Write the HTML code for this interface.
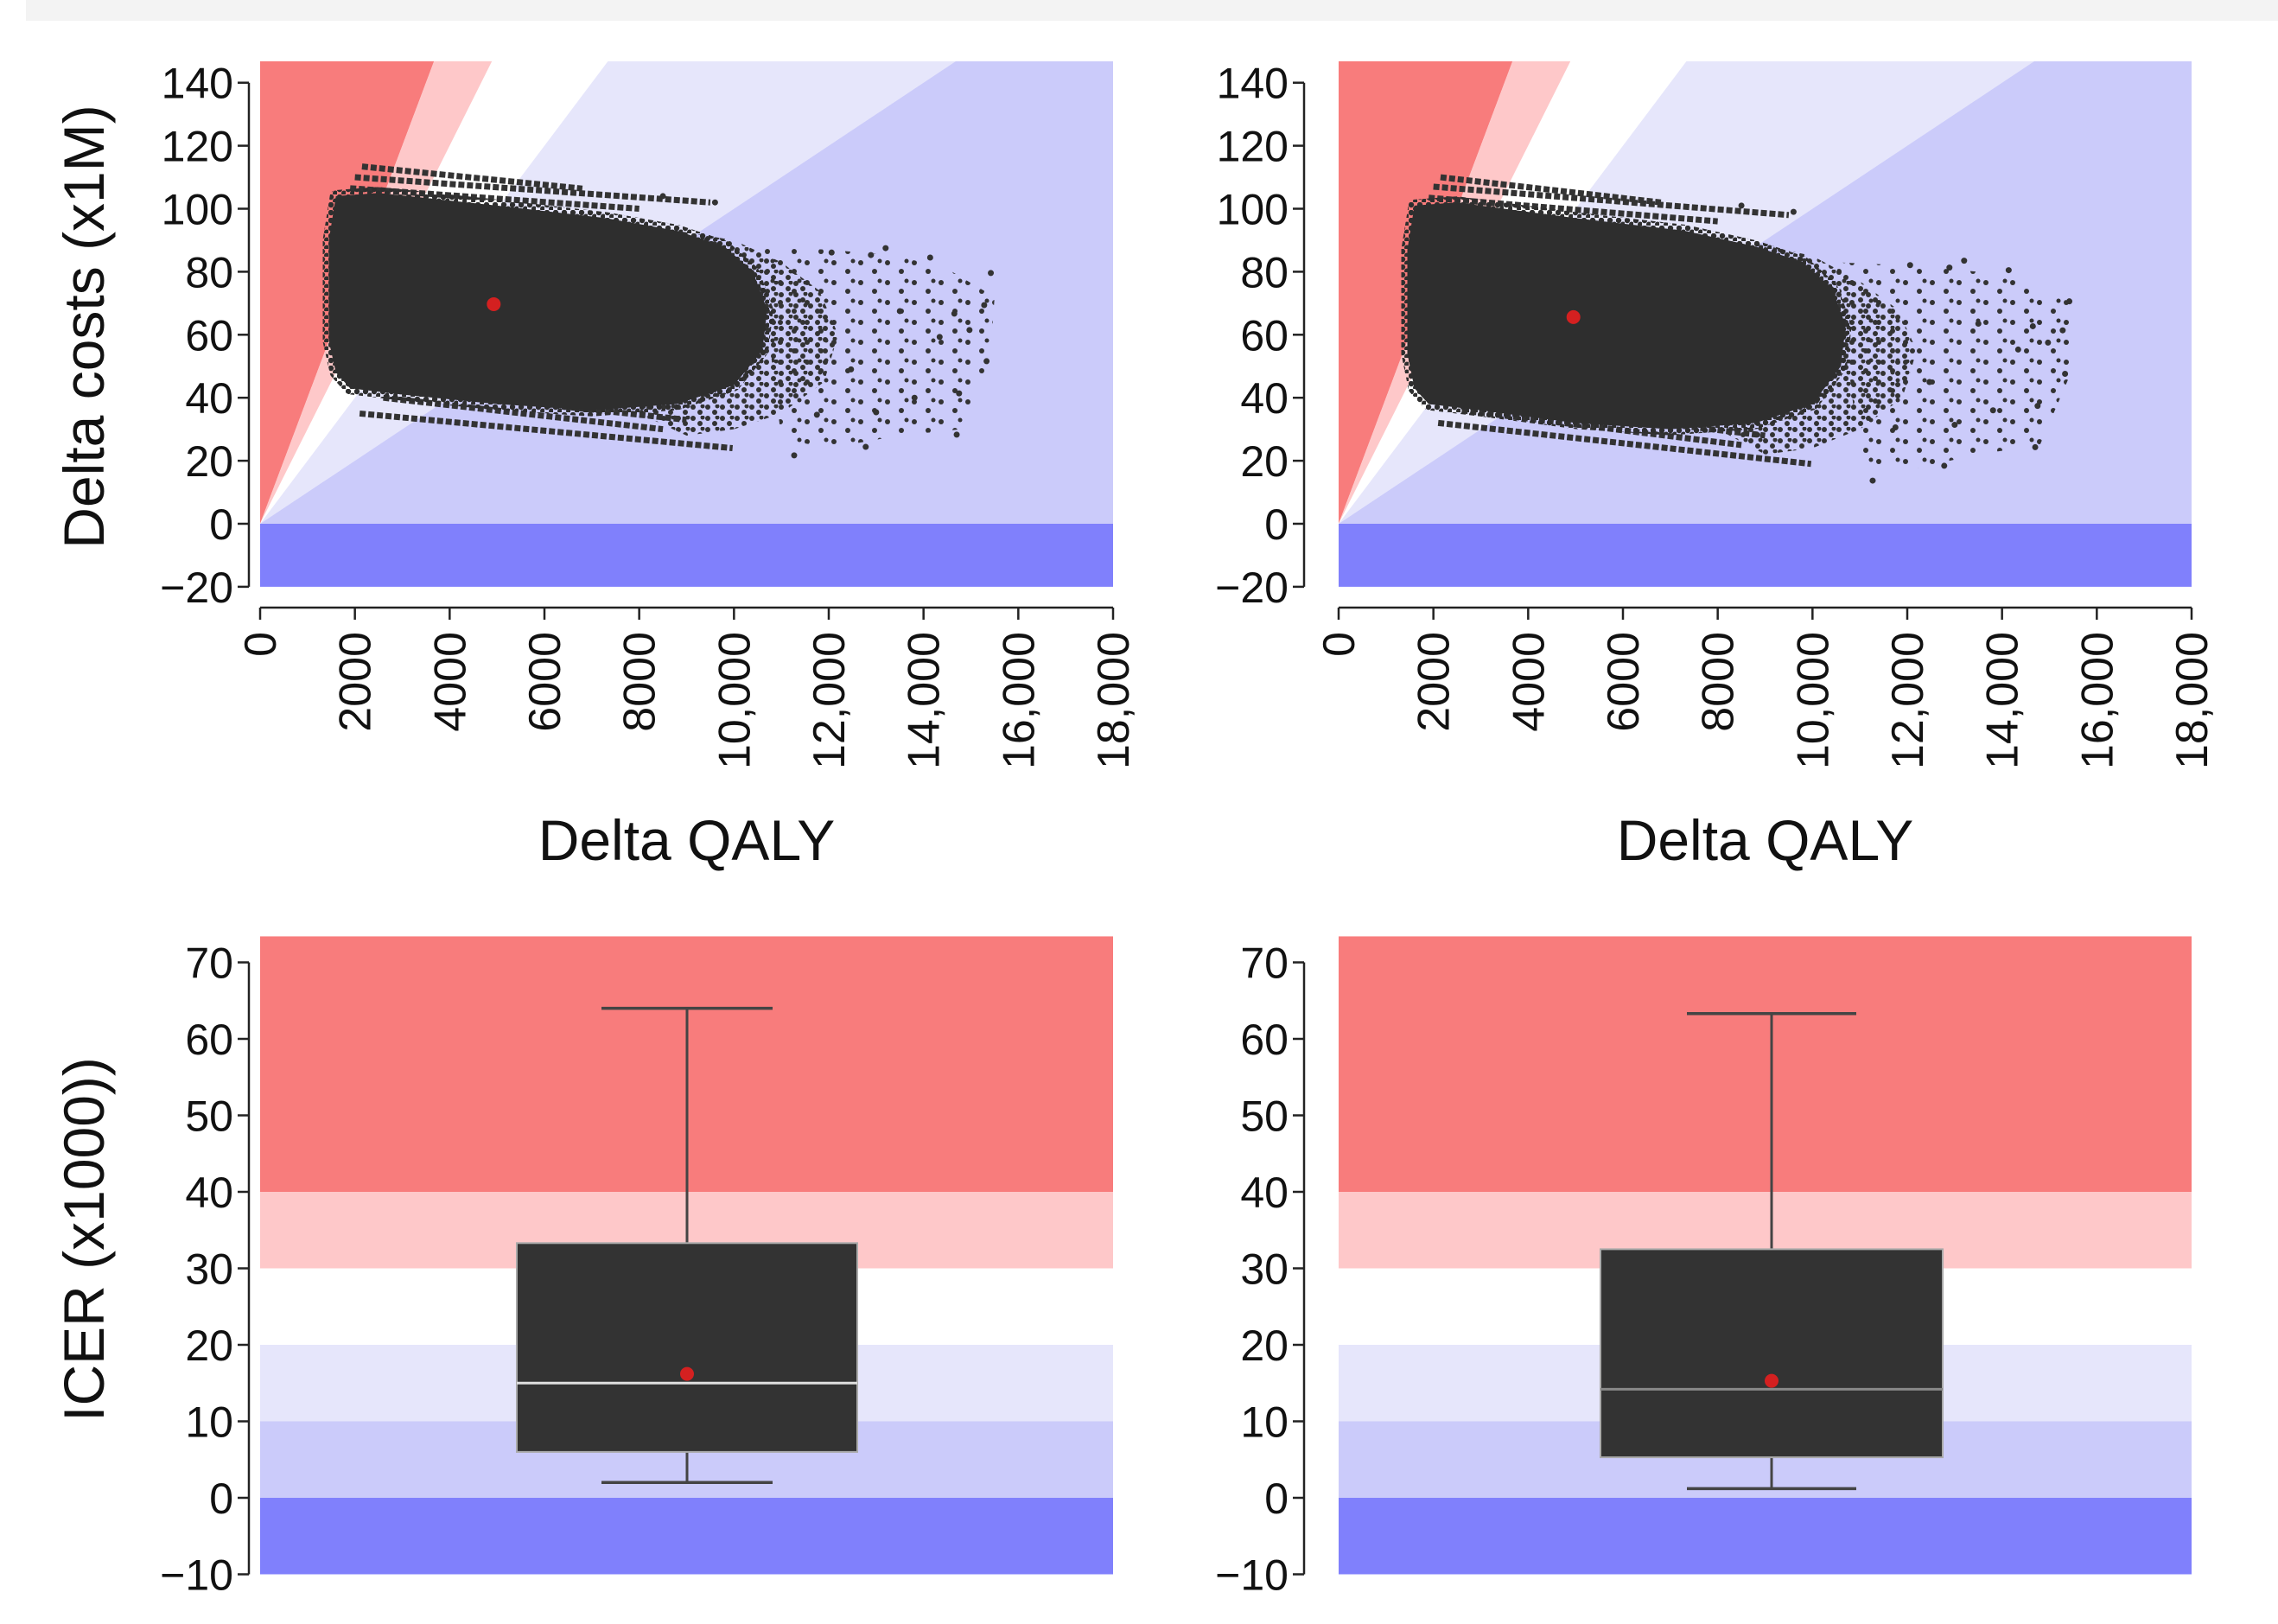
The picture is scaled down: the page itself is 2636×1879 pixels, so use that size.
<!DOCTYPE html>
<html><head><meta charset="utf-8"><style>
html,body{margin:0;padding:0;background:#fff;}
svg text{font-family:"Liberation Sans",Arial,sans-serif;fill:#111;}
</style></head><body>
<svg id="fig" width="2636" height="1874" viewBox="0 0 2636 1874" xmlns="http://www.w3.org/2000/svg">
<defs>
<pattern id="dotsDense" width="10" height="9" patternUnits="userSpaceOnUse">
<circle cx="3" cy="3" r="3.2" fill="#2e2e2e"/><circle cx="8" cy="7.5" r="3" fill="#2e2e2e"/>
</pattern>
<pattern id="dotsMid" width="17" height="13" patternUnits="userSpaceOnUse">
<circle cx="3" cy="3" r="3" fill="#333"/><circle cx="11" cy="9" r="3" fill="#333"/><circle cx="14" cy="2" r="2.5" fill="#333"/>
</pattern>
<pattern id="dotsSparse" width="31" height="23" patternUnits="userSpaceOnUse">
<circle cx="4" cy="5" r="3" fill="#333"/><circle cx="20" cy="15" r="3" fill="#333"/><circle cx="26" cy="3" r="2.5" fill="#333"/>
</pattern>
</defs>
<rect x="30" y="0" width="2606" height="24" fill="#f3f3f3"/>
</svg>
<script>
// ---- data ----
const thresholds = [40, 30, 20, 10]; // ICER thresholds (x1000 per QALY)
const bandColors = ["#f87c7c", "#fec8c9", "#ffffff", "#e6e6fb", "#cbcbfa"];
const negColor = "#8080fc";
const costTicks = [-20, 0, 20, 40, 60, 80, 100, 120, 140];
const qalyTicks = [0, 2000, 4000, 6000, 8000, 10000, 12000, 14000, 16000, 18000];
const qalyTickLabels = ["0","2000","4000","6000","8000","10,000","12,000","14,000","16,000","18,000"];
const icerTicks = [-10, 0, 10, 20, 30, 40, 50, 60, 70];
// left scatter
const cloudQalyL = [1600, 2500, 5000, 7300, 8800, 9800, 10400, 10700, 10600, 10000, 8800, 7000, 5000, 3000, 1900, 1600, 1450, 1450];
const cloudCostL = [104, 105, 101, 97, 93, 88, 80, 68, 55, 44, 38, 36, 38, 41, 43, 48, 58, 90];
const midQalyL = [8800, 10000, 11000, 11800, 12200, 11900, 11000, 10000, 9000, 8000];
const midCostL = [93, 90, 83, 74, 60, 45, 35, 30, 28, 35];
const sparseQalyL = [10500, 12000, 13500, 14600, 15500, 15400, 14800, 13500, 12000, 11000];
const sparseCostL = [88, 87, 85, 80, 72, 52, 30, 28, 24, 27];
const stripeQalyL = [[2150, 6800], [2000, 9500], [1900, 8000], [2200, 9000], [2100, 9970], [2600, 8500]];
const stripeCostL = [[113.4, 106.4], [110, 102], [106.5, 100], [44, 33], [35, 24], [40, 30]];
const outQalyL = [13200,14140,15420,15280,14650,14970,15330,14700,12780,11270,12890,12060,14340,14750,13810,12470,13500,13000,11750,9600,8500];
const outCostL = [87.5,84.5,79.6,69.4,66.7,61.5,51.6,28.3,24.4,21.7,85.3,86.1,59.3,41.4,40,49,67.5,35.4,34.6,102,104];
const meanL = [4930, 69.7];
// right scatter
const cloudQalyR = [1600, 2500, 5000, 7300, 8800, 9800, 10400, 10700, 10600, 10000, 8800, 7000, 5000, 3000, 1900, 1600, 1450, 1450];
const cloudCostR = [101, 102, 97, 93, 88, 83, 75, 63, 50, 38, 32, 30, 32, 36, 38, 43, 54, 87];
const midQalyR = [8800, 10000, 11000, 11800, 12200, 11900, 11000, 10000, 9000, 8000];
const midCostR = [89, 85, 77, 68, 55, 40, 30, 24, 22, 30];
const sparseQalyR = [10500, 12000, 13500, 14600, 15500, 15400, 14800, 13500, 12000, 11000];
const sparseCostR = [83, 82, 80, 76, 70, 46, 25, 22, 17, 20];
const stripeQalyR = [[2150, 6800], [2000, 9500], [1900, 8000], [2200, 9000], [2100, 9970], [2600, 8500]];
const stripeCostR = [[110, 102], [107, 98], [103.5, 96], [40, 28], [32, 19], [36, 25]];
const outQalyR = [13200,14140,15420,15280,14650,14970,15330,14700,12780,11270,12890,12060,14340,14750,13810,12470,13500,13000,11750,9600,8500];
const outCostR = [83.5,80.5,70.6,61.4,62.7,57.5,47.6,24.3,18.4,13.7,81.3,82.1,55.3,37.4,36,45,63.5,31.4,30.6,99,101];
const meanR = [4955, 65.6];
// boxplots
const boxL = {lo: 2, q1: 6, med: 15, q3: 33.3, hi: 64, mean: 16.2};
const boxR = {lo: 1.2, q1: 5.3, med: 14.2, q3: 32.5, hi: 63.3, mean: 15.3};

const svg = document.getElementById('fig');
const NS = "http://www.w3.org/2000/svg";
function mk(tag, attrs, parent) {
  const e = document.createElementNS(NS, tag);
  for (const k in attrs) e.setAttribute(k, attrs[k]);
  (parent || svg).appendChild(e);
  return e;
}

function scatterPanel(p) {
  const X = q => p.x0 + (q / 18000) * (p.x1 - p.x0);
  const Y = c => p.y0 - c * 3.645;
  const g = mk('g', {});
  
  
  const top = 146.8, yTop = Y(top), yBot = Y(-20);
  const lim = [Infinity].concat(thresholds).concat([0]);
  for (let i = 0; i < lim.length - 1; i++) {
    const a = lim[i], b = lim[i + 1];
    const xa = a === Infinity ? p.x0 : Math.min(X(top / a * 1000), p.x1);
    const xb = b === 0 ? p.x1 : Math.min(X(top / b * 1000), p.x1);
    let pts = `${p.x0},${Y(0)} ${xa},${yTop} ${xb},${yTop}`;
    if (b === 0) pts += ` ${p.x1},${Y(0)}`;
    else if (X(top / b * 1000) > p.x1) pts += ` ${p.x1},${Y(b * 18000 / 1000)}`;
    const band = mk('polygon', {points: pts, fill: bandColors[i]}, g);
    
    
  }
  const neg = mk('rect', {x: p.x0, y: Y(0), width: p.x1 - p.x0, height: yBot - Y(0), fill: negColor}, g);
  
  
  const sp = mk('polygon', {points: p.sq.map((q, i) => X(q) + ',' + Y(p.sc[i])).join(' '), fill: 'url(#dotsSparse)'}, g);
  
  
  const md = mk('polygon', {points: p.mq.map((q, i) => X(q) + ',' + Y(p.mc[i])).join(' '), fill: 'url(#dotsMid)'}, g);
  
  
  p.stq.forEach((s, i) => {
    const ln = mk('line', {x1: X(s[0]), y1: Y(p.stc[i][0]), x2: X(s[1]), y2: Y(p.stc[i][1]), stroke: '#333', 'stroke-width': 7, 'stroke-dasharray': '7 3'}, g);
    
    
  });
  const cl = mk('polygon', {points: p.cq.map((q, i) => X(q) + ',' + Y(p.cc[i])).join(' '), fill: '#2e2e2e', stroke: 'url(#dotsDense)', 'stroke-width': 14, 'stroke-linejoin': 'round'}, g);
  
  
  p.oq.forEach((q, i) => {
    const c = mk('circle', {cx: X(q), cy: Y(p.oc[i]), r: 3.5, fill: '#333'}, g);
    
    
  });
  const m = mk('circle', {cx: X(p.mean[0]), cy: Y(p.mean[1]), r: 8, fill: '#d42020'}, g);
  
  
  const ya = mk('line', {x1: p.ax, y1: Y(140), x2: p.ax, y2: Y(-20), stroke: '#222', 'stroke-width': 2.5}, g);
  
  
  costTicks.forEach(t => {
    const tk = mk('line', {x1: p.ax - 13, y1: Y(t), x2: p.ax, y2: Y(t), stroke: '#222', 'stroke-width': 2.5}, g);
    
    
    const tx = mk('text', {x: p.ax - 18, y: Y(t) + 18, 'text-anchor': 'end', 'font-size': 50}, g);
    tx.textContent = t < 0 ? '\u2212' + (-t) : String(t);
    
    
  });
  const xy = 703;
  const xa = mk('line', {x1: p.x0, y1: xy, x2: p.x1, y2: xy, stroke: '#222', 'stroke-width': 2.5}, g);
  
  
  qalyTicks.forEach((t, i) => {
    const tk = mk('line', {x1: X(t), y1: xy, x2: X(t), y2: xy + 14, stroke: '#222', 'stroke-width': 2.5}, g);
    
    
    const tx = mk('text', {x: 0, y: 0, 'text-anchor': 'end', 'font-size': 52, transform: `translate(${X(t) + 18},${xy + 28}) rotate(-90)`}, g);
    tx.textContent = qalyTickLabels[i];
    
    
  });
  const xt = mk('text', {x: (p.x0 + p.x1) / 2, y: 995, 'text-anchor': 'middle', 'font-size': 66}, g);
  xt.textContent = 'Delta QALY';
  
  
}

function boxPanel(p) {
  const Y = v => 1733 - v * 8.85;
  const g = mk('g', {});
  
  
  const bands = [[73.4, 40, bandColors[0]], [40, 30, bandColors[1]], [30, 20, bandColors[2]], [20, 10, bandColors[3]], [10, 0, bandColors[4]], [0, -10, negColor]];
  bands.forEach(b => {
    const r = mk('rect', {x: p.x0, y: Y(b[0]), width: p.x1 - p.x0, height: Y(b[1]) - Y(b[0]), fill: b[2]}, g);
    
    
  });
  const b = p.box, cx = p.cx;
  const w1 = mk('line', {x1: cx, y1: Y(b.hi), x2: cx, y2: Y(b.q3), stroke: '#444', 'stroke-width': 3}, g);
  
  
  const w2 = mk('line', {x1: cx, y1: Y(b.q1), x2: cx, y2: Y(b.lo), stroke: '#444', 'stroke-width': 3}, g);
  
  
  [b.hi, b.lo].forEach((v, i) => {
    const c = mk('line', {x1: cx - p.cap, y1: Y(v), x2: cx + p.cap, y2: Y(v), stroke: '#444', 'stroke-width': 3.5}, g);
    
    
  });
  const bx = mk('rect', {x: cx - p.half, y: Y(b.q3), width: 2 * p.half, height: Y(b.q1) - Y(b.q3), fill: '#333', stroke: '#aaa', 'stroke-width': 2}, g);
  
  
  const md = mk('line', {x1: cx - p.half, y1: Y(b.med), x2: cx + p.half, y2: Y(b.med), stroke: p.medColor, 'stroke-width': 3}, g);
  
  
  const mn = mk('circle', {cx: cx, cy: Y(b.mean), r: 8, fill: '#d42020'}, g);
  
  
  const ya = mk('line', {x1: p.ax, y1: Y(70), x2: p.ax, y2: Y(-10), stroke: '#222', 'stroke-width': 2.5}, g);
  
  
  icerTicks.forEach(t => {
    const tk = mk('line', {x1: p.ax - 13, y1: Y(t), x2: p.ax, y2: Y(t), stroke: '#222', 'stroke-width': 2.5}, g);
    
    
    const tx = mk('text', {x: p.ax - 18, y: Y(t) + 18, 'text-anchor': 'end', 'font-size': 50}, g);
    tx.textContent = t < 0 ? '\u2212' + (-t) : String(t);
    
    
  });
}

scatterPanel({name: 'scatter-left', x0: 301, x1: 1288, y0: 606, ax: 288,
  cq: cloudQalyL, cc: cloudCostL, mq: midQalyL, mc: midCostL, sq: sparseQalyL, sc: sparseCostL, stq: stripeQalyL, stc: stripeCostL,
  oq: outQalyL, oc: outCostL, mean: meanL});
scatterPanel({name: 'scatter-right', x0: 1549, x1: 2536, y0: 606, ax: 1509,
  cq: cloudQalyR, cc: cloudCostR, mq: midQalyR, mc: midCostR, sq: sparseQalyR, sc: sparseCostR, stq: stripeQalyR, stc: stripeCostR,
  oq: outQalyR, oc: outCostR, mean: meanR});
boxPanel({name: 'boxplot-left', x0: 301, x1: 1288, ax: 288, cx: 795, half: 197, cap: 99, box: boxL, medColor: '#e0e0e0'});
boxPanel({name: 'boxplot-right', x0: 1549, x1: 2536, ax: 1509, cx: 2050, half: 198, cap: 98, box: boxR, medColor: '#888'});

const t1 = mk('text', {x: 0, y: 0, 'text-anchor': 'middle', 'font-size': 66, transform: 'translate(120,378) rotate(-90)'});
t1.textContent = 'Delta costs (x1M)';


const t2 = mk('text', {x: 0, y: 0, 'text-anchor': 'middle', 'font-size': 66, transform: 'translate(120,1434) rotate(-90)'});
t2.textContent = 'ICER (x1000))';


</script>
</body></html>
